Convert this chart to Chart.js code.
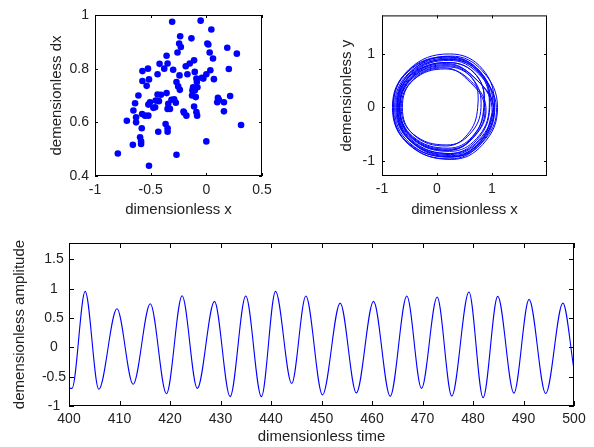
<!DOCTYPE html>
<html>
<head>
<meta charset="utf-8">
<script src="https://cdn.jsdelivr.net/npm/chart.js@4/dist/chart.umd.min.js"></script>
<style>
  html, body { margin: 0; padding: 0; background: #fff; }
  #wrap { position: relative; width: 594px; height: 447px; background: #fff; }
  canvas { position: absolute; left: 0; top: 0; }
</style>
</head>
<body>
<div id="wrap">
  <canvas id="c1" width="594" height="447"></canvas>
  <canvas id="c2" width="594" height="447"></canvas>
  <canvas id="c3" width="594" height="447"></canvas>
</div>
<script>
// ---------- Data: scatter (top-left) ----------
const scatterX = [-0.307,-0.051,0.045,-0.235,-0.134,-0.244,-0.229,-0.259,0.009,0.018,0.030,0.188,0.274,0.060,-0.110,-0.149,-0.185,-0.357,-0.420,-0.348,-0.378,-0.298,-0.574,-0.524,-0.438,-0.515,-0.574,-0.536,-0.170,-0.104,-0.241,-0.089,-0.027,0.000,0.036,0.068,0.202,-0.040,-0.268,-0.253,-0.238,-0.080,-0.104,-0.128,-0.095,-0.125,-0.357,-0.408,-0.438,-0.610,-0.640,-0.455,-0.506,-0.521,-0.476,-0.426,-0.313,-0.289,-0.342,-0.274,-0.348,-0.327,-0.655,-0.631,-0.577,-0.551,-0.521,-0.460,-0.205,-0.179,-0.110,-0.089,-0.083,0.104,0.098,0.113,0.158,0.214,0.158,0.312,-0.714,-0.631,-0.580,-0.366,-0.348,-0.348,-0.432,-0.595,-0.586,-0.586,-0.660,0.000,-0.795,-0.268,-0.515,-0.119,-0.085,-0.200];
const scatterY = [0.975,0.979,0.946,0.921,0.913,0.894,0.881,0.860,0.894,0.890,0.860,0.878,0.856,0.838,0.831,0.819,0.809,0.848,0.818,0.819,0.800,0.796,0.791,0.800,0.779,0.760,0.754,0.736,0.779,0.788,0.775,0.763,0.763,0.779,0.794,0.761,0.799,0.766,0.750,0.734,0.721,0.731,0.719,0.700,0.694,0.719,0.709,0.703,0.704,0.700,0.671,0.681,0.675,0.666,0.654,0.679,0.684,0.686,0.669,0.673,0.650,0.650,0.644,0.619,0.631,0.625,0.625,0.656,0.640,0.625,0.659,0.638,0.625,0.691,0.675,0.684,0.675,0.698,0.641,0.590,0.606,0.600,0.578,0.594,0.578,0.565,0.565,0.544,0.529,0.519,0.516,0.529,0.484,0.479,0.438,0.731,0.750,0.636];
const scatterXTicks = [-1, -0.5, 0, 0.5];
const scatterYTicks = [0.4, 0.6, 0.8, 1];

// ---------- Data: phase portrait (top-right), read loop by loop ----------
const phaseX = [
  1.04,0.779,0.22,-0.535,-0.81,-0.535,0.19,0.779,
  1.02,0.771,0.24,-0.486,-0.75,-0.486,0.21,0.771,
  0.95,0.718,0.23,-0.454,-0.70,-0.454,0.20,0.718,
  0.86,0.645,0.20,-0.441,-0.67,-0.441,0.17,0.645,
  0.80,0.597,0.18,-0.433,-0.65,-0.433,0.15,0.597,
  0.89,0.670,0.21,-0.445,-0.68,-0.445,0.18,0.670,
  1.00,0.759,0.25,-0.455,-0.71,-0.455,0.22,0.759,
  1.08,0.825,0.28,-0.460,-0.73,-0.460,0.25,0.825,
  1.10,0.833,0.26,-0.509,-0.79,-0.509,0.23,0.833,
  1.04,0.785,0.24,-0.500,-0.77,-0.500,0.21,0.785,
  0.96,0.722,0.22,-0.478,-0.73,-0.478,0.19,0.722,
  0.85,0.635,0.19,-0.451,-0.68,-0.451,0.16,0.635,
  0.74,0.549,0.16,-0.424,-0.63,-0.424,0.13,0.549,
  0.87,0.653,0.20,-0.448,-0.68,-0.448,0.17,0.653,
  1.03,0.784,0.26,-0.459,-0.72,-0.459,0.23,0.784,
  1.05,0.789,0.23,-0.525,-0.80,-0.525,0.20,0.789,1.04
];
const phaseY = [
  0.00,-0.653,-0.92,-0.653,0.00,0.675,0.95,0.675,
  0.00,-0.625,-0.88,-0.625,0.00,0.639,0.90,0.639,
  0.00,-0.582,-0.82,-0.582,0.00,0.596,0.84,0.596,
  0.00,-0.540,-0.76,-0.540,0.00,0.540,0.76,0.540,
  0.00,-0.497,-0.70,-0.497,0.00,0.511,0.72,0.511,
  0.00,-0.554,-0.78,-0.554,0.00,0.568,0.80,0.568,
  0.00,-0.611,-0.86,-0.611,0.00,0.625,0.88,0.625,
  0.00,-0.653,-0.92,-0.653,0.00,0.682,0.96,0.682,
  0.00,-0.689,-0.97,-0.689,0.00,0.710,1.00,0.710,
  0.00,-0.660,-0.93,-0.660,0.00,0.653,0.92,0.653,
  0.00,-0.611,-0.86,-0.611,0.00,0.596,0.84,0.596,
  0.00,-0.568,-0.80,-0.568,0.00,0.554,0.78,0.554,
  0.00,-0.511,-0.72,-0.511,0.00,0.525,0.74,0.525,
  0.00,-0.568,-0.80,-0.568,0.00,0.582,0.82,0.582,
  0.00,-0.639,-0.90,-0.639,0.00,0.639,0.90,0.639,
  0.00,-0.682,-0.96,-0.682,0.00,0.667,0.94,0.667,0.00
];
const phaseXTicks = [-1, 0, 1];
const phaseYTicks = [-1, 0, 1];

// ---------- Data: time series (bottom), peaks and troughs ----------
const timeT = [400.0,400.6,403.2,405.9,409.5,412.7,416.1,419.3,422.4,425.4,428.8,431.9,435.0,438.1,440.9,444.1,446.9,450.2,453.7,456.9,460.3,463.6,466.9,469.8,472.9,475.8,479.2,482.0,484.9,488.1,491.1,494.4,497.8,500.0];
const timeV = [-0.70,-0.70,0.955,-0.714,0.659,-0.63,0.744,-0.79,0.88,-0.70,0.784,-0.84,0.875,-0.84,0.955,-0.617,0.875,-0.81,0.755,-0.777,0.784,-0.834,0.875,-0.70,0.858,-0.83,0.944,-0.86,0.87,-0.78,0.818,-0.79,0.755,-0.38];
const timeXTicks = [400,410,420,430,440,450,460,470,480,490,500];
const timeYTicks = [-1,-0.5,0,0.5,1,1.5];

// ---------- Common styling ----------
Chart.defaults.font.family = "'Liberation Sans', Arial, sans-serif";
Chart.defaults.color = '#222';
const BLUE = '#0000ff';

const boxPlugin = {
  id: 'matlabBox',
  afterDatasetsDraw(chart, args, opts) {
    const {ctx, chartArea: a, scales} = chart;
    const L = opts.len || 4;
    ctx.save();
    ctx.strokeStyle = '#000';
    ctx.lineWidth = 1;
    ctx.beginPath();
    scales.x.ticks.forEach(t => {
      const p = Math.round(scales.x.getPixelForValue(t.value)) + 0.5;
      ctx.moveTo(p, a.bottom); ctx.lineTo(p, a.bottom - L);
      ctx.moveTo(p, a.top); ctx.lineTo(p, a.top + L);
    });
    scales.y.ticks.forEach(t => {
      const p = Math.round(scales.y.getPixelForValue(t.value)) + 0.5;
      ctx.moveTo(a.left, p); ctx.lineTo(a.left + L, p);
      ctx.moveTo(a.right, p); ctx.lineTo(a.right - L, p);
    });
    ctx.stroke();
    ctx.strokeRect(a.left + 0.5, a.top + 0.5, a.right - a.left - 1, a.bottom - a.top - 1);
    ctx.restore();
  }
};

function axis(opts) {
  const {min, max, ticks, fitSize, horizontal, title, titlePad, tickPad, crossAlign} = opts;
  return {
    type: 'linear',
    min, max,
    grid: {display: false, drawTicks: false, tickLength: 0},
    border: {display: false},
    afterBuildTicks: s => { s.ticks = ticks.map(v => ({value: v})); },
    afterFit: s => { if (horizontal) s.height = fitSize; else s.width = fitSize; },
    ticks: {
      autoSkip: false,
      maxRotation: 0,
      padding: tickPad,
      crossAlign: crossAlign || 'near',
      font: {size: 14},
      color: '#222',
      callback: v => String(v)
    },
    title: {
      display: true,
      text: title,
      color: '#222',
      font: {size: 15, lineHeight: 1.2},
      padding: titlePad
    }
  };
}

const baseOpts = {
  responsive: false,
  animation: false,
  events: [],
  plugins: {legend: {display: false}, tooltip: {enabled: false}}
};

// Chart 1: scatter
new Chart(document.getElementById('c1'), {
  type: 'scatter',
  data: {
    datasets: [{
      data: scatterX.map((x, i) => ({x, y: scatterY[i]})),
      pointRadius: 3.3,
      pointBackgroundColor: BLUE,
      pointBorderWidth: 0,
      showLine: false
    }]
  },
  options: Object.assign({}, baseOpts, {
    layout: {padding: {left: 0, top: 15, right: 332, bottom: 221}},
    plugins: Object.assign({}, baseOpts.plugins, {matlabBox: {len: 3}}),
    scales: {
      x: axis({min: -1, max: 0.5, ticks: scatterXTicks, fitSize: 50, horizontal: true, title: 'dimensionless x', titlePad: {top: 0, bottom: 7}, tickPad: 6}),
      y: axis({min: 0.4, max: 1, ticks: scatterYTicks, fitSize: 95, horizontal: false, title: 'demensionless dx', titlePad: {top: 48, bottom: 0}, tickPad: 6})
    }
  }),
  plugins: [boxPlugin]
});

// Chart 2: phase portrait
new Chart(document.getElementById('c2'), {
  type: 'scatter',
  data: {
    datasets: [{
      data: phaseX.map((x, i) => ({x, y: phaseY[i]})),
      showLine: true,
      borderColor: BLUE,
      borderWidth: 1,
      pointRadius: 0,
      tension: 0.42,
      fill: false
    }]
  },
  options: Object.assign({}, baseOpts, {
    layout: {padding: {left: 322, top: 15, right: 47, bottom: 221}},
    plugins: Object.assign({}, baseOpts.plugins, {matlabBox: {len: 3}}),
    scales: {
      x: axis({min: -1, max: 2, ticks: phaseXTicks, fitSize: 50, horizontal: true, title: 'dimensionless x', titlePad: {top: 0, bottom: 7}, tickPad: 5}),
      y: axis({min: -1.28, max: 1.72, ticks: phaseYTicks, fitSize: 60, horizontal: false, title: 'demensionless y', titlePad: {top: 16, bottom: 0}, tickPad: 7})
    }
  }),
  plugins: [boxPlugin]
});

// Chart 3: time series
new Chart(document.getElementById('c3'), {
  type: 'scatter',
  data: {
    datasets: [{
      data: timeT.map((x, i) => ({x, y: timeV[i]})),
      showLine: true,
      borderColor: BLUE,
      borderWidth: 1.1,
      pointRadius: 0,
      cubicInterpolationMode: 'monotone',
      fill: false
    }]
  },
  options: Object.assign({}, baseOpts, {
    layout: {padding: {left: 0, top: 243, right: 20, bottom: 0}},
    plugins: Object.assign({}, baseOpts.plugins, {matlabBox: {len: 5}}),
    scales: {
      x: axis({min: 400, max: 500, ticks: timeXTicks, fitSize: 41, horizontal: true, title: 'dimensionless time', titlePad: {top: 0, bottom: 1}, tickPad: 5}),
      y: axis({min: -1, max: 1.78, ticks: timeYTicks, fitSize: 69, horizontal: false, title: 'demensionless amplitude', titlePad: {top: 11, bottom: 0}, tickPad: 3, crossAlign: 'center'})
    }
  }),
  plugins: [boxPlugin]
});
</script>
</body>
</html>
